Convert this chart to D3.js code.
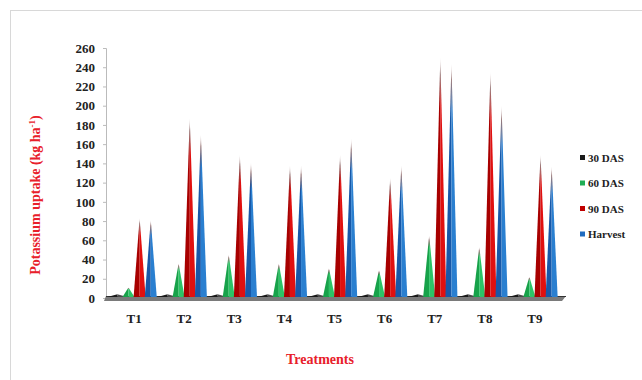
<!DOCTYPE html>
<html>
<head>
<meta charset="utf-8">
<script src="https://cdn.jsdelivr.net/npm/d3@7"></script>
<style>
  body { margin: 0; background: #fff; }
  svg text { font-family: "Liberation Serif", "Times New Roman", serif; font-weight: bold; }
</style>
</head>
<body>
<div id="viz-container"></div>
<script>
// data
let treatments = ["T1", "T2", "T3", "T4", "T5", "T6", "T7", "T8", "T9"];
let seriesNames = ["30 DAS", "60 DAS", "90 DAS", "Harvest"];
let das30 = [4, 4, 4, 4, 4, 4, 4, 4, 4];
let das60 = [11, 36, 45, 36, 31, 29, 65, 53, 22];
let das90 = [83, 187, 149, 138, 149, 125, 250, 235, 149];
let harvest = [81, 170, 141, 138, 166, 138, 244, 200, 137];
let yTicks = [0, 20, 40, 60, 80, 100, 120, 140, 160, 180, 200, 220, 240, 260];

let allSeries = [das30, das60, das90, harvest];
// colours: [left face, right face, legend]
let colors = [
  ["#1a1a1a", "#4a4a4a", "#1a1a1a"],
  ["#17a24a", "#2cc466", "#1fae55"],
  ["#a80000", "#e01010", "#c00000"],
  ["#1858a8", "#2a7fd0", "#1f6cc0"]
];

let viz = d3.select("#viz-container")
  .append("svg")
    .attr("width", 642)
    .attr("height", 380);

// outer frame
viz.append("rect")
  .attr("x", 10.5).attr("y", 10.5)
  .attr("width", 640).attr("height", 380)
  .attr("fill", "none")
  .attr("stroke", "#d8d8d8");

let defs = viz.append("defs");
colors.forEach(function(c, i) {
  ["l", "r"].forEach(function(side, j) {
    let g = defs.append("linearGradient")
      .attr("id", "g" + i + side)
      .attr("x1", 0).attr("y1", 0).attr("x2", 0).attr("y2", 1);
    g.append("stop").attr("offset", "0%").attr("stop-color", "#d9c9c9").attr("stop-opacity", 0.5);
    g.append("stop").attr("offset", "7%").attr("stop-color", i == 0 ? c[j] : "#6b3a3a").attr("stop-opacity", 0.9);
    g.append("stop").attr("offset", "20%").attr("stop-color", c[j]);
    g.append("stop").attr("offset", "100%").attr("stop-color", c[j]);
  });
});

let x = d3.scaleBand()
  .domain(treatments)
  .range([109, 560]);

let xs = d3.scaleBand()
  .domain(seriesNames)
  .range([0, x.bandwidth()])
  .paddingOuter(0.25);

let y = d3.scaleLinear()
  .domain([0, 260])
  .range([298, 48]);

// y axis
let yAxis = viz.append("g")
  .attr("transform", "translate(106,0)")
  .call(d3.axisLeft(y).tickValues(yTicks).tickSize(3).tickPadding(8));
yAxis.select(".domain").attr("stroke", "#bbb");
yAxis.selectAll(".tick line").attr("stroke", "#bbb");
yAxis.selectAll("text").attr("font-size", 13).attr("fill", "#222");

// floor (3d base)
viz.append("path")
  .attr("d", "M106,296 L566,296 L562,301 L104,301 Z")
  .attr("fill", "#7a7a7a");
viz.append("line")
  .attr("x1", 106).attr("x2", 566).attr("y1", 296.5).attr("y2", 296.5)
  .attr("stroke", "#333");

// pyramids
allSeries.forEach(function(vals, i) {
  let half = i == 0 ? 10 : 6;
  let g = viz.append("g");
  treatments.forEach(function(t, k) {
    let cx = x(t) + xs(seriesNames[i]) + xs.bandwidth() / 2;
    let top = y(vals[k]);
    let base = y(0) - 1;
    g.append("path")
      .attr("d", "M" + cx + "," + top + " L" + (cx - half) + "," + base + " L" + cx + "," + base + " Z")
      .attr("fill", "url(#g" + i + "l)");
    g.append("path")
      .attr("d", "M" + cx + "," + top + " L" + cx + "," + base + " L" + (cx + half) + "," + base + " Z")
      .attr("fill", "url(#g" + i + "r)");
  });
});

// x labels
viz.append("g").selectAll("text")
  .data(treatments)
  .join("text")
    .attr("x", function(d) { return x(d) + x.bandwidth() / 2; })
    .attr("y", 323)
    .attr("text-anchor", "middle")
    .attr("font-size", 13)
    .attr("fill", "#222")
    .text(function(d) { return d; });

// titles
viz.append("text")
  .attr("transform", "translate(40,195) rotate(-90)")
  .attr("text-anchor", "middle")
  .attr("font-size", 14)
  .attr("fill", "#e8202a")
  .html('Potassium uptake (kg ha<tspan dy="-5" font-size="9">-1</tspan><tspan dy="5">)</tspan>');

viz.append("text")
  .attr("x", 320).attr("y", 364)
  .attr("text-anchor", "middle")
  .attr("font-size", 14)
  .attr("fill", "#e8202a")
  .text("Treatments");

// legend
let legend = viz.append("g").selectAll("g")
  .data(seriesNames)
  .join("g")
    .attr("transform", function(d, i) { return "translate(580," + (158 + i * 25.5) + ")"; });
legend.append("rect")
  .attr("x", 0).attr("y", -3).attr("width", 5).attr("height", 5)
  .attr("fill", function(d, i) { return colors[i][2]; });
legend.append("text")
  .attr("x", 8).attr("y", 3.5)
  .attr("font-size", 11)
  .attr("fill", "#222")
  .text(function(d) { return d; });
</script>
</body>
</html>
